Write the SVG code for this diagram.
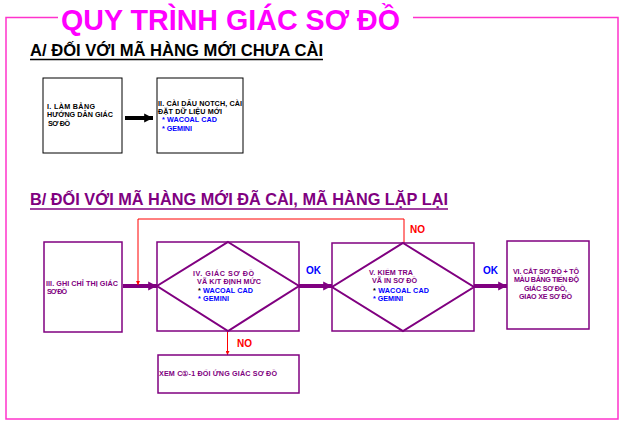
<svg xmlns="http://www.w3.org/2000/svg" width="629" height="428" viewBox="0 0 629 428">
<style>
text{font-family:"Liberation Sans",Arial,sans-serif;font-weight:bold}
.frame{fill:none;stroke:#ff33cc;stroke-width:1.5}
.t{font-size:7.2px}
.blk{fill:#000}
.pur{fill:#800080}
.blu{fill:#0000ff}
.red{fill:#ff0000}
.bxk{fill:#fff;stroke:#000;stroke-width:1}
.bxp{fill:#fff;stroke:#800080;stroke-width:1.5}
.dia{fill:none;stroke:#800080;stroke-width:2}
.ap{stroke:#800080;stroke-width:4;fill:none}
.ak{stroke:#000;stroke-width:4;fill:none}
.ar{stroke:#ff0000;stroke-width:1;fill:none}
</style>
<defs>
<marker id="hp" viewBox="0 0 10 10" refX="10" refY="5" markerWidth="2.2" markerHeight="2.6" orient="auto" markerUnits="strokeWidth"><path d="M0,0L10,5L0,10z" fill="#800080"/></marker>
<marker id="hk" viewBox="0 0 10 10" refX="10" refY="5" markerWidth="2.2" markerHeight="2.6" orient="auto" markerUnits="strokeWidth"><path d="M0,0L10,5L0,10z" fill="#000"/></marker>
<marker id="hr" viewBox="0 0 10 10" refX="10" refY="5" markerWidth="4" markerHeight="4" orient="auto" markerUnits="strokeWidth"><path d="M0,0L10,5L0,10z" fill="#ff0000"/></marker>
</defs>
<rect width="629" height="428" fill="#fff"/>
<g id="frame">
<path class="frame" d="M58,17.5H6V419H618V17.5H413"/>
<text x="61" y="30" font-size="30" fill="#ff00ff" textLength="339" lengthAdjust="spacingAndGlyphs">QUY TRÌNH GIÁC SƠ ĐỒ</text>
</g>
<g id="heading-a">
<text x="30" y="56" font-size="17" class="blk" textLength="293" lengthAdjust="spacingAndGlyphs">A/ ĐỐI VỚI MÃ HÀNG MỚI CHƯA CÀI</text>
<line x1="30" y1="59.5" x2="323" y2="59.5" stroke="#000" stroke-width="1.6"/>
</g>
<g id="heading-b">
<text x="30" y="205" font-size="17" class="pur" textLength="418" lengthAdjust="spacingAndGlyphs">B/ ĐỐI VỚI MÃ HÀNG MỚI ĐÃ CÀI, MÃ HÀNG LẶP LẠI</text>
<line x1="30" y1="209" x2="448" y2="209" stroke="#800080" stroke-width="1.6"/>
</g>
<g id="connectors">
<line class="ak" x1="125" y1="118" x2="153" y2="118" marker-end="url(#hk)"/>
<line class="ap" x1="123" y1="286" x2="157" y2="286" marker-end="url(#hp)"/>
<line class="ap" x1="299" y1="286" x2="332" y2="286" marker-end="url(#hp)"/>
<line class="ap" x1="474" y1="286" x2="507" y2="286" marker-end="url(#hp)"/>
<path class="ar" d="M404,243V219H138V285" marker-end="url(#hr)"/>
<line class="ar" x1="227.5" y1="331" x2="227.5" y2="355" marker-end="url(#hr)"/>
<text x="306" y="274" font-size="10" class="blu">OK</text>
<text x="483" y="274" font-size="10" class="blu">OK</text>
<text x="410" y="233" font-size="10" class="red">NO</text>
<text x="237" y="347" font-size="10" class="red">NO</text>
</g>
<g id="node-1">
<rect class="bxk" x="43" y="78" width="79" height="75"/>
<text class="t blk" x="47" y="109" textLength="48">I.  LÀM BẢNG</text>
<text class="t blk" x="47" y="117" textLength="66">HƯỚNG DẪN GIÁC</text>
<text class="t blk" x="48" y="126" textLength="22">SƠ ĐỒ</text>
</g>
<g id="node-2">
<rect class="bxk" x="157" y="78" width="86" height="75"/>
<text class="t blk" x="158" y="106" textLength="84">II. CÀI DẤU NOTCH, CÀI</text>
<text class="t blk" x="158" y="114" textLength="64">ĐẶT DỮ LIỆU MỚI</text>
<text class="t blu" x="162" y="122" textLength="55">* WACOAL CAD</text>
<text class="t blu" x="162" y="131" textLength="30">* GEMINI</text>
</g>
<g id="node-3">
<rect class="bxp" x="44" y="242" width="78" height="90"/>
<text class="t pur" x="46" y="286" textLength="72">III. GHI CHỈ THỊ GIÁC</text>
<text class="t pur" x="47" y="294" textLength="20">SƠ ĐỒ</text>
</g>
<g id="node-4">
<rect class="bxp" x="157" y="242" width="142" height="89"/>
<path class="dia" d="M228,242L299,286L228,331L157,286Z"/>
<text class="t pur" x="193" y="276" textLength="61">IV. GIÁC  SƠ ĐỒ</text>
<text class="t pur" x="197" y="284" textLength="64">VÃ K/T ĐỊNH MỨC</text>
<text class="t blu" x="198" y="293" textLength="55"><tspan fill="#000">*</tspan> WACOAL CAD</text>
<text class="t blu" x="198" y="301" textLength="31">* GEMINI</text>
</g>
<g id="node-5">
<rect class="bxp" x="332" y="243" width="142" height="88"/>
<path class="dia" d="M403,243L474,287L403,331L332,287Z"/>
<text class="t pur" x="369" y="275" textLength="44">V. KIỂM TRA</text>
<text class="t pur" x="372" y="283" textLength="45">VÃ IN SƠ ĐỒ</text>
<text class="t blu" x="373" y="293" textLength="56"><tspan fill="#000">*</tspan> WACOAL CAD</text>
<text class="t blu" x="373" y="301" textLength="30">* GEMINI</text>
</g>
<g id="node-6">
<rect class="bxp" x="507" y="241" width="82" height="88"/>
<text class="t pur" x="546" y="274" text-anchor="middle" textLength="66">VI. CẮT SƠ ĐỒ + TÔ</text>
<text class="t pur" x="546.5" y="282" text-anchor="middle" textLength="65">MÀU BẢNG TIẾN ĐỘ</text>
<text class="t pur" x="545.5" y="291" text-anchor="middle" textLength="43">GIÁC SƠ ĐỒ,</text>
<text class="t pur" x="545.5" y="299" text-anchor="middle" textLength="53">GIAO XE SƠ ĐỒ</text>
</g>
<g id="node-7">
<rect class="bxp" x="158" y="355" width="141" height="38"/>
<text class="t pur" x="159" y="376" textLength="118">XEM C①-1 ĐỐI ỨNG GIÁC SƠ ĐỒ</text>
</g>
</svg>
